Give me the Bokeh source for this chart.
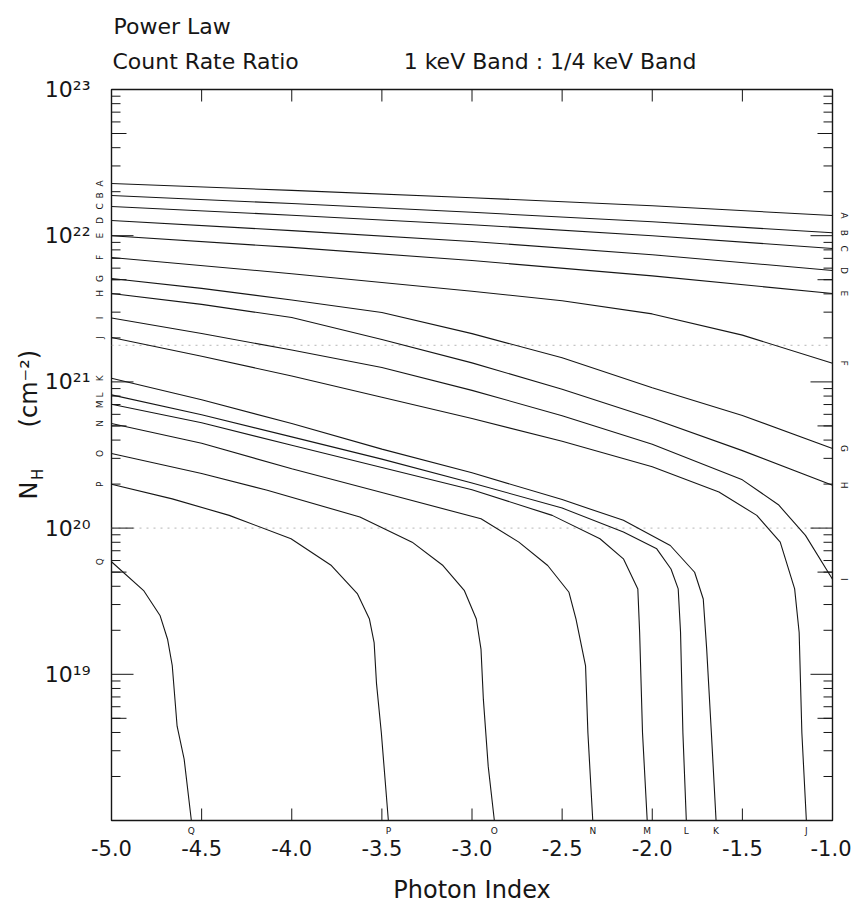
import math
from bokeh.plotting import figure
from bokeh.models import (Range1d, FixedTicker, PrintfTickFormatter, LinearAxis, LogAxis,
                          Title, Span)
from bokeh.embed import file_html
from bokeh.resources import INLINE

# ---------------- data ----------------
# photon index (x) and log10 N_H [cm^-2] (y) along each constant-ratio curve
x_A = [-5.0, -4.0, -3.0, -2.0, -1.0]
y_A = [22.357, 22.31, 22.26, 22.205, 22.138]
x_B = [-5.0, -4.0, -3.0, -2.0, -1.0]
y_B = [22.275, 22.22, 22.16, 22.095, 22.02]
x_C = [-5.0, -4.0, -3.0, -2.0, -1.0]
y_C = [22.2, 22.14, 22.075, 22.0, 21.912]
x_D = [-5.0, -4.0, -3.0, -2.0, -1.0]
y_D = [22.104, 22.035, 21.96, 21.87, 21.762]
x_E = [-5.0, -4.0, -3.0, -2.0, -1.0]
y_E = [22.0, 21.92, 21.83, 21.725, 21.605]
x_F = [-5.0, -4.0, -3.0, -2.5, -2.0, -1.5, -1.0]
y_F = [21.851, 21.74, 21.62, 21.555, 21.465, 21.32, 21.128]
x_G = [-5.0, -4.5, -4.0, -3.5, -3.0, -2.5, -2.0, -1.5, -1.0]
y_G = [21.707, 21.64, 21.56, 21.475, 21.33, 21.165, 20.96, 20.77, 20.545]
x_H = [-5.0, -4.5, -4.0, -3.5, -3.0, -2.5, -2.0, -1.5, -1.0]
y_H = [21.605, 21.53, 21.44, 21.29, 21.13, 20.95, 20.75, 20.53, 20.293]
x_I = [-5.0, -4.5, -4.0, -3.5, -3.0, -2.5, -2.0, -1.5, -1.3, -1.15, -1.0]
y_I = [21.437, 21.331, 21.218, 21.099, 20.942, 20.769, 20.574, 20.33, 20.16, 19.95, 19.65]
x_J = [-5.0, -4.5, -4.0, -3.5, -3.0, -2.5, -2.0, -1.63, -1.42, -1.29, -1.21, -1.185, -1.17, -1.145]
y_J = [21.304, 21.176, 21.04, 20.895, 20.75, 20.594, 20.42, 20.247, 20.087, 19.904, 19.584, 19.286, 18.6, 18.0]
x_K = [-5.0, -4.5, -4.0, -3.5, -3.0, -2.5, -2.16, -1.9, -1.765, -1.717, -1.698, -1.672, -1.646]
y_K = [21.025, 20.878, 20.715, 20.54, 20.378, 20.195, 20.053, 19.881, 19.698, 19.515, 19.172, 18.6, 18.0]
x_L = [-5.0, -4.5, -4.0, -3.5, -3.0, -2.5, -2.16, -1.975, -1.896, -1.856, -1.843, -1.83, -1.811]
y_L = [20.911, 20.775, 20.624, 20.472, 20.309, 20.137, 19.973, 19.858, 19.72, 19.584, 19.286, 18.6, 18.0]
x_M = [-5.0, -4.5, -4.0, -3.5, -3.0, -2.555, -2.29, -2.16, -2.08, -2.07, -2.054, -2.028]
y_M = [20.847, 20.72, 20.567, 20.414, 20.262, 20.087, 19.927, 19.79, 19.584, 19.286, 18.6, 18.0]
x_N = [-5.0, -4.5, -4.0, -3.5, -2.95, -2.74, -2.58, -2.462, -2.423, -2.37, -2.357, -2.33]
y_N = [20.716, 20.58, 20.406, 20.243, 20.064, 19.904, 19.744, 19.561, 19.378, 19.057, 18.6, 18.0]
x_O = [-5.0, -4.5, -4.136, -3.622, -3.332, -3.161, -3.042, -2.976, -2.95, -2.937, -2.91, -2.876]
y_O = [20.51, 20.374, 20.259, 20.076, 19.904, 19.744, 19.572, 19.378, 19.17, 18.83, 18.37, 18.0]
x_P = [-5.0, -4.663, -4.347, -4.004, -3.78, -3.635, -3.569, -3.543, -3.53, -3.503, -3.464]
y_P = [20.30, 20.20, 20.087, 19.927, 19.744, 19.55, 19.378, 19.217, 18.94, 18.6, 18.0]
x_Q = [-5.0, -4.82, -4.73, -4.689, -4.663, -4.636, -4.597, -4.557]
y_Q = [19.77, 19.57, 19.40, 19.24, 19.06, 18.645, 18.42, 18.0]

curve_names = ["A", "B", "C", "D", "E", "F", "G", "H", "I",
               "J", "K", "L", "M", "N", "O", "P", "Q"]
curve_x = [x_A, x_B, x_C, x_D, x_E, x_F, x_G, x_H, x_I,
           x_J, x_K, x_L, x_M, x_N, x_O, x_P, x_Q]
curve_lognh = [y_A, y_B, y_C, y_D, y_E, y_F, y_G, y_H, y_I,
               y_J, y_K, y_L, y_M, y_N, y_O, y_P, y_Q]

x_ticks = [-5.0, -4.5, -4.0, -3.5, -3.0, -2.5, -2.0, -1.5, -1.0]
y_ticks = [1e19, 1e20, 1e21, 1e22, 1e23]
y_tick_labels = ["10\u00b9\u2079", "10\u00b2\u2070", "10\u00b2\u00b9", "10\u00b2\u00b2", "10\u00b2\u00b3"]
y_decades = [1e18, 1e19, 1e20, 1e21, 1e22]
y_minor = [m * d for d in y_decades for m in range(2, 10)]
y_half = [5 * d for d in y_decades]

# faint dotted scan lines on the original sheet
scan_lines = [1.78e21, 1.0e20]

title_1 = "Power Law"
title_2 = "Count Rate Ratio" + "\u00a0" * 15 + "1 keV Band : 1/4 keV Band"
x_title = "Photon Index"
y_title_main = ["N", "(cm\u207b\u00b2)"]
y_title_sub = ["H"]

# ---------------- figure ----------------
FONT = "DejaVu Sans"
INK = "#161616"
X0, X1 = -5.0, -1.0
Y0, Y1 = 1e18, 1e23

p = figure(width=851, height=906, x_range=Range1d(X0, X1), y_range=Range1d(Y0, Y1),
           y_axis_type="log", output_backend="svg", toolbar_location=None,
           min_border_left=111, min_border_right=14, min_border_top=89, min_border_bottom=86)
p.background_fill_color = "white"
p.border_fill_color = "white"
p.outline_line_color = INK
p.outline_line_width = 1.4
p.grid.visible = False

for loc in scan_lines:
    p.add_layout(Span(location=loc, dimension="width", line_color="#b5b5b5",
                      line_dash="2 5", line_width=1, level="underlay"))

for xs, ys in zip(curve_x, curve_lognh):
    p.line(xs, [10.0 ** v for v in ys], line_color=INK, line_width=1.1)

# inward ticks on all four frame edges (the 5x ticks a little longer)
tick_kw = dict(length_units="screen", line_color=INK, line_width=1)
p.ray(x=x_ticks, y=[Y1] * len(x_ticks), length=12, angle=-math.pi / 2, **tick_kw)
p.ray(x=x_ticks, y=[Y0] * len(x_ticks), length=12, angle=math.pi / 2, **tick_kw)
for xe, ang in ((X0, 0.0), (X1, math.pi)):
    p.ray(x=[xe] * len(y_ticks), y=y_ticks, length=22, angle=ang, **tick_kw)
    p.ray(x=[xe] * len(y_minor), y=y_minor, length=9, angle=ang, **tick_kw)
    p.ray(x=[xe] * len(y_half), y=y_half, length=15, angle=ang, **tick_kw)

def bare(ax, size):
    ax.axis_line_color = None
    ax.major_tick_in = 0
    ax.major_tick_out = 0
    ax.minor_tick_in = 0
    ax.minor_tick_out = 0
    ax.major_label_text_font = FONT
    ax.major_label_text_color = INK
    ax.major_label_text_font_size = size

# curve letters as tick labels just outside the frame
left_y = [10.0 ** ys[0] for ys in curve_lognh]
r_idx = [i for i, xs in enumerate(curve_x) if xs[-1] >= X1]
b_idx = [i for i, xs in enumerate(curve_x) if xs[-1] < X1]
right_y = [10.0 ** curve_lognh[i][-1] for i in r_idx]
right_t = [curve_names[i] for i in r_idx]
bottom_x = [curve_x[i][-1] for i in b_idx]
bottom_t = [curve_names[i] for i in b_idx]

let_left = LogAxis(ticker=FixedTicker(ticks=left_y, minor_ticks=[]),
                   major_label_overrides=dict(zip(left_y, curve_names)))
bare(let_left, "9px")
let_left.major_label_orientation = "vertical"
let_left.major_label_standoff = 6

let_right = LogAxis(ticker=FixedTicker(ticks=right_y, minor_ticks=[]),
                    major_label_overrides=dict(zip(right_y, right_t)))
bare(let_right, "9px")
let_right.major_label_orientation = "vertical"
let_right.major_label_standoff = 6

let_bottom = LinearAxis(ticker=FixedTicker(ticks=bottom_x, minor_ticks=[]),
                        major_label_overrides=dict(zip(bottom_x, bottom_t)))
bare(let_bottom, "9px")
let_bottom.major_label_standoff = 5

# main axes (labels only; ticks are drawn at the frame above)
xa = p.xaxis[0]
xa.ticker = FixedTicker(ticks=x_ticks, minor_ticks=[])
xa.formatter = PrintfTickFormatter(format="%.1f")
bare(xa, "21px")
xa.major_label_standoff = 1
xa.axis_label = x_title
xa.axis_label_text_font = FONT
xa.axis_label_text_font_style = "normal"
xa.axis_label_text_font_size = "24px"
xa.axis_label_text_color = INK
xa.axis_label_standoff = 17

ya = p.yaxis[0]
ya.ticker = FixedTicker(ticks=y_ticks, minor_ticks=[])
ya.major_label_overrides = dict(zip(y_ticks, y_tick_labels))
bare(ya, "22px")
ya.major_label_standoff = 2

# y title  N_H (cm^-2): vertical text pieces placed along the left edge
y_main_pos = [1.81e20, 9.0e20]    # label anchor heights (N, (cm^-2))
y_sub_pos = [2.33e20]             # subscript H
yt_sub = LogAxis(ticker=FixedTicker(ticks=y_sub_pos, minor_ticks=[]),
                 major_label_overrides=dict(zip(y_sub_pos, y_title_sub)))
bare(yt_sub, "15px")
yt_sub.major_label_orientation = "vertical"
yt_sub.major_label_standoff = -6
yt_main = LogAxis(ticker=FixedTicker(ticks=y_main_pos, minor_ticks=[]),
                  major_label_overrides=dict(zip(y_main_pos, y_title_main)))
bare(yt_main, "24px")
yt_main.major_label_orientation = "vertical"
yt_main.major_label_standoff = -17

p.left = [let_left, ya, yt_sub, yt_main]
p.below = [let_bottom, xa]
p.right = [let_right]

# titles
t2 = Title(text=title_2, align="left", offset=1, standoff=32,
           text_font=FONT, text_font_size="22px", text_font_style="normal", text_color=INK)
t1 = Title(text=title_1, align="left", offset=2, standoff=-16,
           text_font=FONT, text_font_size="22px", text_font_style="normal", text_color=INK)
p.add_layout(t2, "above")
p.add_layout(t1, "above")

open("out.html", "w").write(file_html(p, INLINE))
